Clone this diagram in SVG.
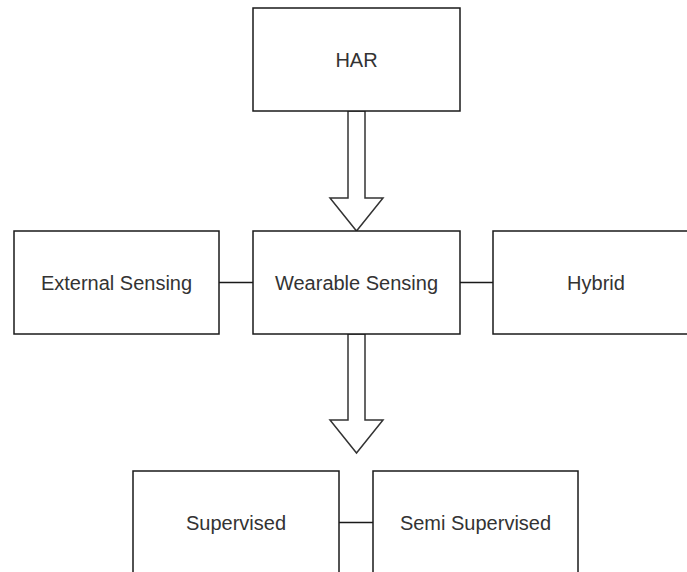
<svg xmlns="http://www.w3.org/2000/svg" width="687" height="572" viewBox="0 0 687 572">
<style>
.box{fill:#fff;stroke:#1a1a1a;stroke-width:1.5}
.lbl{font-family:"Liberation Sans",Arial,sans-serif;font-size:20px;fill:#333;text-anchor:middle;dominant-baseline:central}
.arrow{fill:#fff;stroke:#333;stroke-width:1.5;stroke-linejoin:miter}
.line{stroke:#1a1a1a;stroke-width:1.5;fill:none}
</style>
<rect width="687" height="572" fill="#fff"/>
<g id="connectors">
<path class="arrow" d="M348,111 L365,111 L365,198 L383,198 L356.5,231 L330,198 L348,198 Z"/>
<path class="arrow" d="M348,334 L365,334 L365,420 L383,420 L356.5,453 L330,420 L348,420 Z"/>
<line class="line" x1="219" y1="282.5" x2="253" y2="282.5"/>
<line class="line" x1="460" y1="282.5" x2="493" y2="282.5"/>
<line class="line" x1="339" y1="522.5" x2="373" y2="522.5"/>
</g>
<g id="har"><rect class="box" x="253" y="8" width="207" height="103"/><text class="lbl" x="356.5" y="59.5">HAR</text></g>
<g id="external"><rect class="box" x="14" y="231" width="205" height="103"/><text class="lbl" x="116.5" y="282.5">External Sensing</text></g>
<g id="wearable"><rect class="box" x="253" y="231" width="207" height="103"/><text class="lbl" x="356.5" y="282.5">Wearable Sensing</text></g>
<g id="hybrid"><rect class="box" x="493" y="231" width="207" height="103"/><text class="lbl" x="596" y="282.5">Hybrid</text></g>
<g id="supervised"><rect class="box" x="133" y="471" width="206" height="103"/><text class="lbl" x="236" y="522.5">Supervised</text></g>
<g id="semi"><rect class="box" x="373" y="471" width="205" height="103"/><text class="lbl" x="475.5" y="522.5">Semi Supervised</text></g>
</svg>
